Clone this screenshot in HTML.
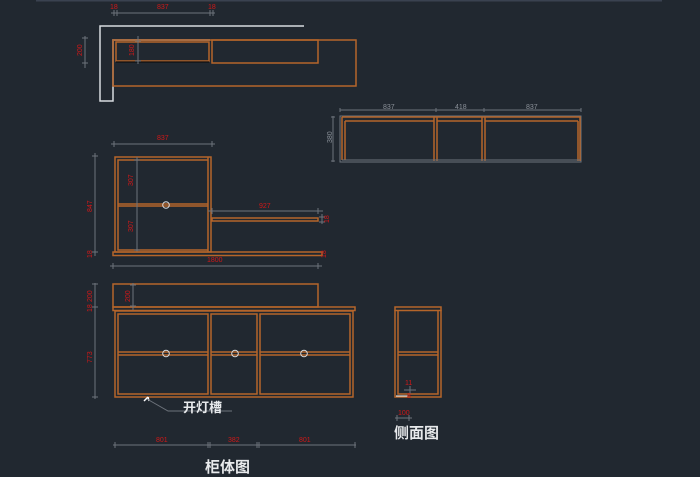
<!DOCTYPE html>
<html><head><meta charset="utf-8"><style>
html,body{margin:0;padding:0;background:#212830;}
svg{display:block;}
.o{fill:none;stroke:#b5652a;stroke-width:1.5;}
.w{fill:none;stroke:#d8dce0;stroke-width:1.5;}
.d{fill:none;stroke:#6d737b;stroke-width:1;}
.r{fill:#d01818;font-family:"Liberation Sans",sans-serif;font-size:7px;}
.g{fill:#8a9098;font-family:"Liberation Sans",sans-serif;font-size:7px;}
.t{fill:#e8eaec;font-family:"Liberation Sans","Noto Sans CJK SC",sans-serif;font-weight:bold;}
</style></head><body>
<svg width="700" height="477" viewBox="0 0 700 477" xmlns="http://www.w3.org/2000/svg">
<rect x="36" y="0" width="626" height="1.5" fill="#3a4250"/>

<!-- TOP VIEW -->
<path class="d" d="M111 13H215 M114 10v6 M117 10v6 M210 10v6 M213 10v6"/>
<text class="r" x="110" y="9">18</text><text class="r" x="157" y="9">837</text><text class="r" x="208" y="9">18</text>
<path class="w" d="M304 26H100V101H113V40H210"/>
<rect class="o" x="113" y="40" width="243" height="46"/>
<rect class="o" x="116" y="42" width="93" height="19"/>
<rect class="o" x="212" y="40" width="106" height="23"/>
<path d="M116 62H209" stroke="#0c0f12" stroke-width="1.2"/>
<path class="d" d="M85 36V68 M82 38h6 M82 63h6 M138 36V64 M135 41h6 M135 61h6"/>
<text class="r" transform="translate(82,56) rotate(-90)">200</text>
<text class="r" transform="translate(134,56) rotate(-90)">180</text>

<!-- WALL CABINET -->
<path class="d" d="M340 110H581 M340 108v4 M436 108v4 M484 108v4 M581 108v4"/>
<text class="g" x="383" y="109">837</text><text class="g" x="455" y="109">418</text><text class="g" x="526" y="109">837</text>
<path class="d" d="M333 116V162 M331 117h4 M331 161h4"/>
<text class="g" transform="translate(332,143) rotate(-90)">380</text>
<rect class="d" x="340" y="116" width="241" height="46"/>
<path class="o" d="M342 117H580V161 M345 121H434 M437 121H482 M485 121H578 M342 117V160 M345 121V160 M434 117V161 M437 117V161 M482 117V161 M485 117V161 M578 121V161"/>
<path class="d" d="M342 160H580"/>

<!-- SIDE SECTION (middle) -->
<path class="d" d="M111 144H215 M114 141v6 M212 141v6"/>
<text class="r" x="157" y="140">837</text>
<rect class="o" x="115" y="157" width="96" height="95"/>
<path class="o" d="M118 160H208V250H118Z M118 204H208 M118 206H208 M208 157V252"/>
<circle cx="166" cy="205" r="3.3" fill="none" stroke="#d8dce0" stroke-width="1"/>
<path class="d" d="M137 157V252 M134 160h6 M134 250h6"/>
<text class="r" transform="translate(133,186) rotate(-90)">307</text>
<text class="r" transform="translate(133,232) rotate(-90)">307</text>
<path class="d" d="M95 153V256 M92 156h6 M92 252h6"/>
<text class="r" transform="translate(92,212) rotate(-90)">847</text>
<text class="r" transform="translate(92,258) rotate(-90)">18</text>
<rect class="o" x="113" y="252" width="209" height="3.5"/>
<rect class="o" x="212" y="218" width="106" height="3"/>
<path class="d" d="M208 211H323 M212 208v6 M318 208v6"/>
<text class="r" x="259" y="208">927</text>
<path class="d" d="M322 214V224 M319 217h6 M319 222h6"/>
<text class="r" transform="translate(329,223) rotate(-90)">18</text>
<text class="r" transform="translate(326,258) rotate(-90)">18</text>
<path class="d" d="M110 266H322 M113 263v6 M318 263v6"/>
<text class="r" x="207" y="262">1800</text>

<!-- FRONT VIEW -->
<rect class="o" x="113" y="284" width="205" height="23"/>
<rect class="o" x="113" y="307" width="242" height="3.5"/>
<path class="o" d="M115 311H353V397H115Z M118 314H208V394H118Z M211 314H257V394H211Z M260 314H350V394H260Z M118 352H208 M118 355H208 M211 352H257 M211 355H257 M260 352H350 M260 355H350"/>
<circle cx="166" cy="353.5" r="3.3" fill="none" stroke="#d8dce0" stroke-width="1"/>
<circle cx="235" cy="353.5" r="3.3" fill="none" stroke="#d8dce0" stroke-width="1"/>
<circle cx="304" cy="353.5" r="3.3" fill="none" stroke="#d8dce0" stroke-width="1"/>
<path class="d" d="M95 283V399 M92 284h6 M92 307h6 M92 397h6 M133 283V310 M130 285h6 M130 306h6"/>
<text class="r" transform="translate(92,302) rotate(-90)">200</text>
<text class="r" transform="translate(92,312) rotate(-90)">18</text>
<text class="r" transform="translate(92,363) rotate(-90)">773</text>
<text class="r" transform="translate(130,302) rotate(-90)">200</text>
<path d="M148 397l-4 4m4-4l1 4" stroke="#fff" stroke-width="1.5" fill="none"/>
<path class="d" d="M147 399L168 411H232"/>
<text class="t" x="183" y="412" font-size="13">开灯槽</text>
<path class="d" d="M113 445H356 M115 442v6 M208 442v6 M210 442v6 M257 442v6 M259 442v6 M355 442v6"/>
<text class="r" x="156" y="442">801</text><text class="r" x="228" y="442">382</text><text class="r" x="299" y="442">801</text>
<text class="t" x="205" y="472" font-size="15">柜体图</text>

<!-- SIDE VIEW -->
<rect class="o" x="395" y="307" width="46" height="3.5"/>
<path class="o" d="M395 310V397H441V310 M398 311V394H438V311 M398 352H438 M398 355H438"/>
<path class="d" d="M404 390H416 M410 386v8"/>
<path d="M396 396H408" stroke="#fff" stroke-width="1"/>
<text class="r" x="405" y="385">11</text>
<text class="r" x="407" y="398">8</text>
<path class="d" d="M395 418H412 M397 415v6 M409 415v6"/>
<text class="r" x="398" y="415">100</text>
<text class="t" x="394" y="438" font-size="15">侧面图</text>
</svg>
</body></html>
